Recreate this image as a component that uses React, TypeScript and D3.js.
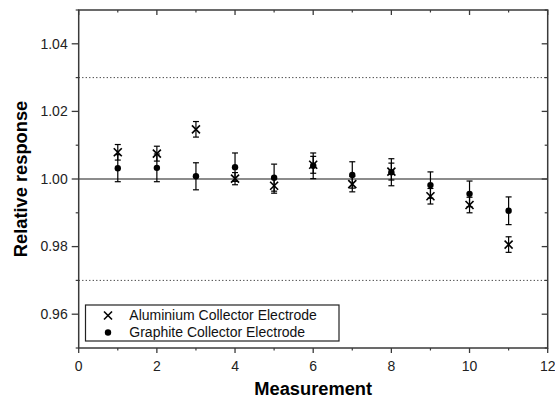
import React from "react";
import * as d3 from "d3";

const measurements = [1, 2, 3, 4, 5, 6, 7, 8, 9, 10, 11];
const aluminiumValues = [1.0079, 1.0075, 1.0147, 1.0001, 0.998, 1.0042, 0.9985, 1.0022, 0.9949, 0.9923, 0.9806];
const aluminiumErrors = [0.0023, 0.0022, 0.0023, 0.0018, 0.0022, 0.0025, 0.0023, 0.0025, 0.0023, 0.0023, 0.0023];
const graphiteValues = [1.0032, 1.0033, 1.0008, 1.0035, 1.0004, 1.0039, 1.0012, 1.002, 0.9982, 0.9956, 0.9906];
const graphiteErrors = [0.004, 0.0041, 0.004, 0.0042, 0.004, 0.0038, 0.0039, 0.004, 0.0039, 0.0038, 0.0041];
const xTicks = [0, 2, 4, 6, 8, 10, 12];
const xMinorTicks = [1, 3, 5, 7, 9, 11];
const yTicks = [0.96, 0.98, 1.0, 1.02, 1.04];
const yMinorTicks = [0.95, 0.97, 0.99, 1.01, 1.03, 1.05];
const referenceLine = 1.0;
const limitLines = [0.97, 1.03];
const legendLabels = ["Aluminium Collector Electrode", "Graphite Collector Electrode"];

const W = 555;
const H = 401;
const left = 78.7;
const right = 547.7;
const top = 10;
const bottom = 348;
const font = "'Liberation Sans', Arial, Helvetica, sans-serif";
const axisColor = "#3a3a3a";

export default function App() {
  const x = d3.scaleLinear().domain([0, 12]).range([left, right]);
  const y = d3.scaleLinear().domain([0.95, 1.05]).range([bottom, top]);
  const cap = 3;
  const xs = 4;

  const errorBar = (i: number, v: number, e: number, key: string) => {
    const cx = x(measurements[i]);
    return (
      <g key={key} stroke="#000" strokeWidth={1.2}>
        <line x1={cx} x2={cx} y1={y(v + e)} y2={y(v - e)} />
        <line x1={cx - cap} x2={cx + cap} y1={y(v + e)} y2={y(v + e)} />
        <line x1={cx - cap} x2={cx + cap} y1={y(v - e)} y2={y(v - e)} />
      </g>
    );
  };

  const cross = (cx: number, cy: number, key: string) => (
    <g key={key} stroke="#000" strokeWidth={1.6}>
      <line x1={cx - xs} x2={cx + xs} y1={cy - xs} y2={cy + xs} />
      <line x1={cx - xs} x2={cx + xs} y1={cy + xs} y2={cy - xs} />
    </g>
  );

  return (
    <svg
      width={W}
      height={H}
      style={{ position: "absolute", left: 0, top: 0, background: "#fff" }}
      fontFamily={font}
    >
      {/* limit lines */}
      {limitLines.map((v) => (
        <line key={v} x1={left} x2={right} y1={y(v)} y2={y(v)} stroke="#333" strokeWidth={1} strokeDasharray="1.2,2.3" />
      ))}
      <line x1={left} x2={right} y1={y(referenceLine)} y2={y(referenceLine)} stroke="#666" strokeWidth={1.5} />

      {/* data */}
      {measurements.map((m, i) => errorBar(i, graphiteValues[i], graphiteErrors[i], "ge" + i))}
      {measurements.map((m, i) => errorBar(i, aluminiumValues[i], aluminiumErrors[i], "ae" + i))}
      {measurements.map((m, i) => (
        <circle key={"g" + i} cx={x(m)} cy={y(graphiteValues[i])} r={3.2} fill="#000" />
      ))}
      {measurements.map((m, i) => cross(x(m), y(aluminiumValues[i]), "a" + i))}

      {/* frame */}
      <rect x={left} y={top} width={right - left} height={bottom - top} fill="none" stroke={axisColor} strokeWidth={1.5} />

      {/* x ticks */}
      {xTicks.map((t) => (
        <g key={"xt" + t}>
          <line x1={x(t)} x2={x(t)} y1={bottom} y2={bottom + 5} stroke={axisColor} strokeWidth={1.3} />
          <line x1={x(t)} x2={x(t)} y1={top} y2={top + 5} stroke={axisColor} strokeWidth={1.3} />
          <text x={x(t)} y={371} textAnchor="middle" fontSize={14} fill="#222">
            {t}
          </text>
        </g>
      ))}
      {xMinorTicks.map((t) => (
        <g key={"xm" + t}>
          <line x1={x(t)} x2={x(t)} y1={bottom} y2={bottom + 2.5} stroke={axisColor} strokeWidth={1.2} />
          <line x1={x(t)} x2={x(t)} y1={top} y2={top + 2.5} stroke={axisColor} strokeWidth={1.2} />
        </g>
      ))}

      {/* y ticks */}
      {yTicks.map((t) => (
        <g key={"yt" + t}>
          <line x1={left - 7} x2={left} y1={y(t)} y2={y(t)} stroke={axisColor} strokeWidth={1.3} />
          <line x1={right - 6} x2={right} y1={y(t)} y2={y(t)} stroke={axisColor} strokeWidth={1.3} />
          <text x={left - 11} y={y(t) + 4.8} textAnchor="end" fontSize={14} fill="#222">
            {d3.format(".2f")(t)}
          </text>
        </g>
      ))}
      {yMinorTicks.map((t) => (
        <g key={"ym" + t}>
          <line x1={left - 3} x2={left} y1={y(t)} y2={y(t)} stroke={axisColor} strokeWidth={1.2} />
          <line x1={right - 3} x2={right} y1={y(t)} y2={y(t)} stroke={axisColor} strokeWidth={1.2} />
        </g>
      ))}

      {/* axis titles */}
      <text x={(left + right) / 2} y={395} textAnchor="middle" fontSize={18.3} fontWeight="bold" fill="#000">
        Measurement
      </text>
      <text
        transform={`translate(26.5,${(top + bottom) / 2}) rotate(-90)`}
        textAnchor="middle"
        fontSize={18.3}
        fontWeight="bold"
        fill="#000"
      >
        Relative response
      </text>

      {/* legend */}
      <g>
        <rect x={85.5} y={305} width={253.5} height={36} fill="#fff" stroke="#222" strokeWidth={1.2} />
        {cross(108, 315.5, "lx")}
        <circle cx={108} cy={332.5} r={3.2} fill="#000" />
        <text x={129.3} y={320.3} fontSize={14} fill="#111">
          {legendLabels[0]}
        </text>
        <text x={129.3} y={337} fontSize={14} fill="#111">
          {legendLabels[1]}
        </text>
      </g>
    </svg>
  );
}
